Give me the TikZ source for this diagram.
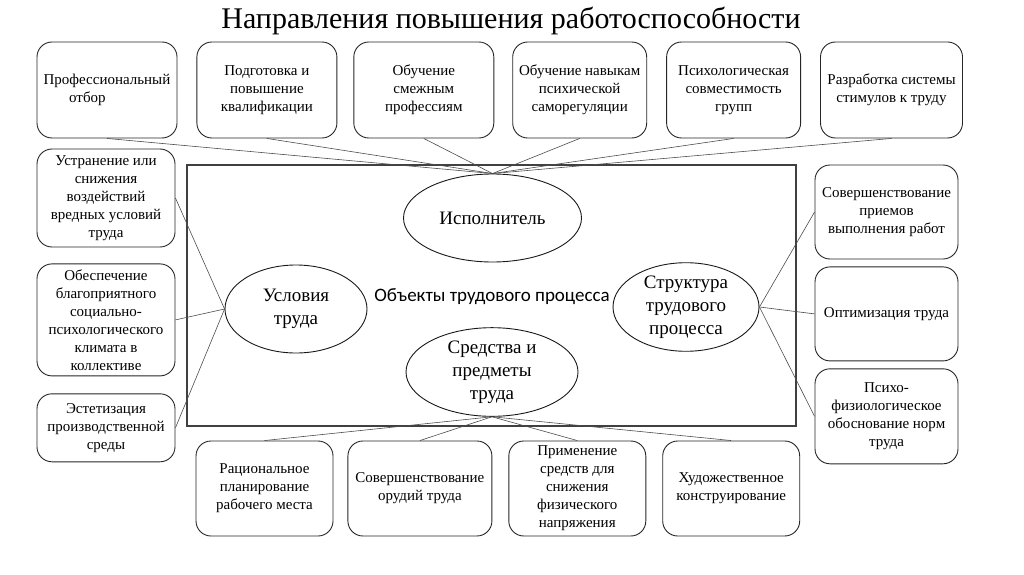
\documentclass[tikz,border=0pt]{standalone}
\usepackage{fontspec}
\setmainfont{Liberation Serif}
\newfontfamily\objfont{Carlito}
\usepackage{tikz}
\usetikzlibrary{shapes.geometric,positioning}

\begin{document}
\begin{tikzpicture}[x=1pt, y=1pt,
    box/.style={rectangle, draw=black!85, line width=0.9pt, rounded corners=15pt, align=center, inner sep=2pt, font=\fontsize{15}{18}\selectfont},
    obj/.style={ellipse, draw=black!90, line width=0.9pt, align=center, inner sep=0pt, font=\fontsize{19}{23}\selectfont},
    link/.style={draw=black!70, line width=0.6pt}]
    \useasboundingbox (0,0) rectangle (1024,574);

    % Title
    \node (title) at (511,553) {\fontsize{30}{36}\selectfont Направления повышения работоспособности};

    % Frame
    \draw[draw=black!75, line width=1.1pt] (187,148) rectangle (796,409);
    \node (objects) at (492,277) {\objfont\fontsize{19}{22}\selectfont Объекты трудового процесса};

    % Central nodes
    \node (isp) [obj, minimum width=178pt, minimum height=88pt] at (492.5,356) {Исполнитель};
    \node (usl) [obj, minimum width=142pt, minimum height=88pt] at (296,265) {Условия\\труда};
    \node (str) [obj, minimum width=146pt, minimum height=88pt] at (686,267) {Структура\\трудового\\процесса};
    \node (sred) [obj, minimum width=172pt, minimum height=82pt] at (492,202) {Средства и\\предметы\\труда};

    % Top row
    \node (top1) [box, minimum width=140pt, minimum height=96pt, align=left] at (107,484) {Профессиональный\\\hspace*{1.7em}отбор};
    \node (top2) [box, minimum width=140pt, minimum height=96pt, right=19pt of top1] {Подготовка и\\повышение\\квалификации};
    \node (top3) [box, minimum width=140pt, minimum height=96pt, right=16pt of top2] {Обучение\\смежным\\профессиям};
    \node (top4) [box, minimum width=134pt, minimum height=96pt, right=18pt of top3] {Обучение навыкам\\психической\\саморегуляции};
    \node (top5) [box, minimum width=134pt, minimum height=96pt, right=19pt of top4] {Психологическая\\совместимость\\групп};
    \node (top6) [box, minimum width=142pt, minimum height=96pt, right=19pt of top5] {Разработка системы\\стимулов к труду};

    % Left column
    \node (left1) [box, minimum width=138pt, minimum height=98pt] at (106,376) {Устранение или\\снижения\\воздействий\\вредных условий\\труда};
    \node (left2) [box, minimum width=138pt, minimum height=112pt, below=16pt of left1] {Обеспечение\\благоприятного\\социально-\\психологического\\климата в\\коллективе};
    \node (left3) [box, minimum width=138pt, minimum height=68pt, below=17pt of left2] {Эстетизация\\производственной\\среды};

    % Right column
    \node (right1) [box, minimum width=143pt, minimum height=94pt] at (886.5,362) {Совершенствование\\приемов\\выполнения работ};
    \node (right2) [box, minimum width=143pt, minimum height=94pt, below=7pt of right1] {Оптимизация труда};
    \node (right3) [box, minimum width=143pt, minimum height=95pt, below=7pt of right2] {Психо-\\физиологическое\\обоснование норм\\труда};

    % Bottom row
    \node (bot1) [box, minimum width=137pt, minimum height=95pt] at (264.5,85.5) {Рациональное\\планирование\\рабочего места};
    \node (bot2) [box, minimum width=144pt, minimum height=95pt, right=14pt of bot1] {Совершенствование\\орудий труда};
    \node (bot3) [box, minimum width=137pt, minimum height=95pt, right=16pt of bot2] {Применение\\средств для\\снижения\\физического\\напряжения};
    \node (bot4) [box, minimum width=137pt, minimum height=95pt, right=16pt of bot3] {Художественное\\конструирование};

    % Edges
    \foreach \i in {1,...,6}
        \draw[link] (top\i.south) -- (isp.north);
    \foreach \i in {1,2,3} {
        \draw[link] (left\i.east) -- (usl.west);
        \draw[link] (str.east) -- (right\i.west);
    }
    \foreach \i in {1,...,4}
        \draw[link] (sred.south) -- (bot\i.north);
\end{tikzpicture}
\end{document}
